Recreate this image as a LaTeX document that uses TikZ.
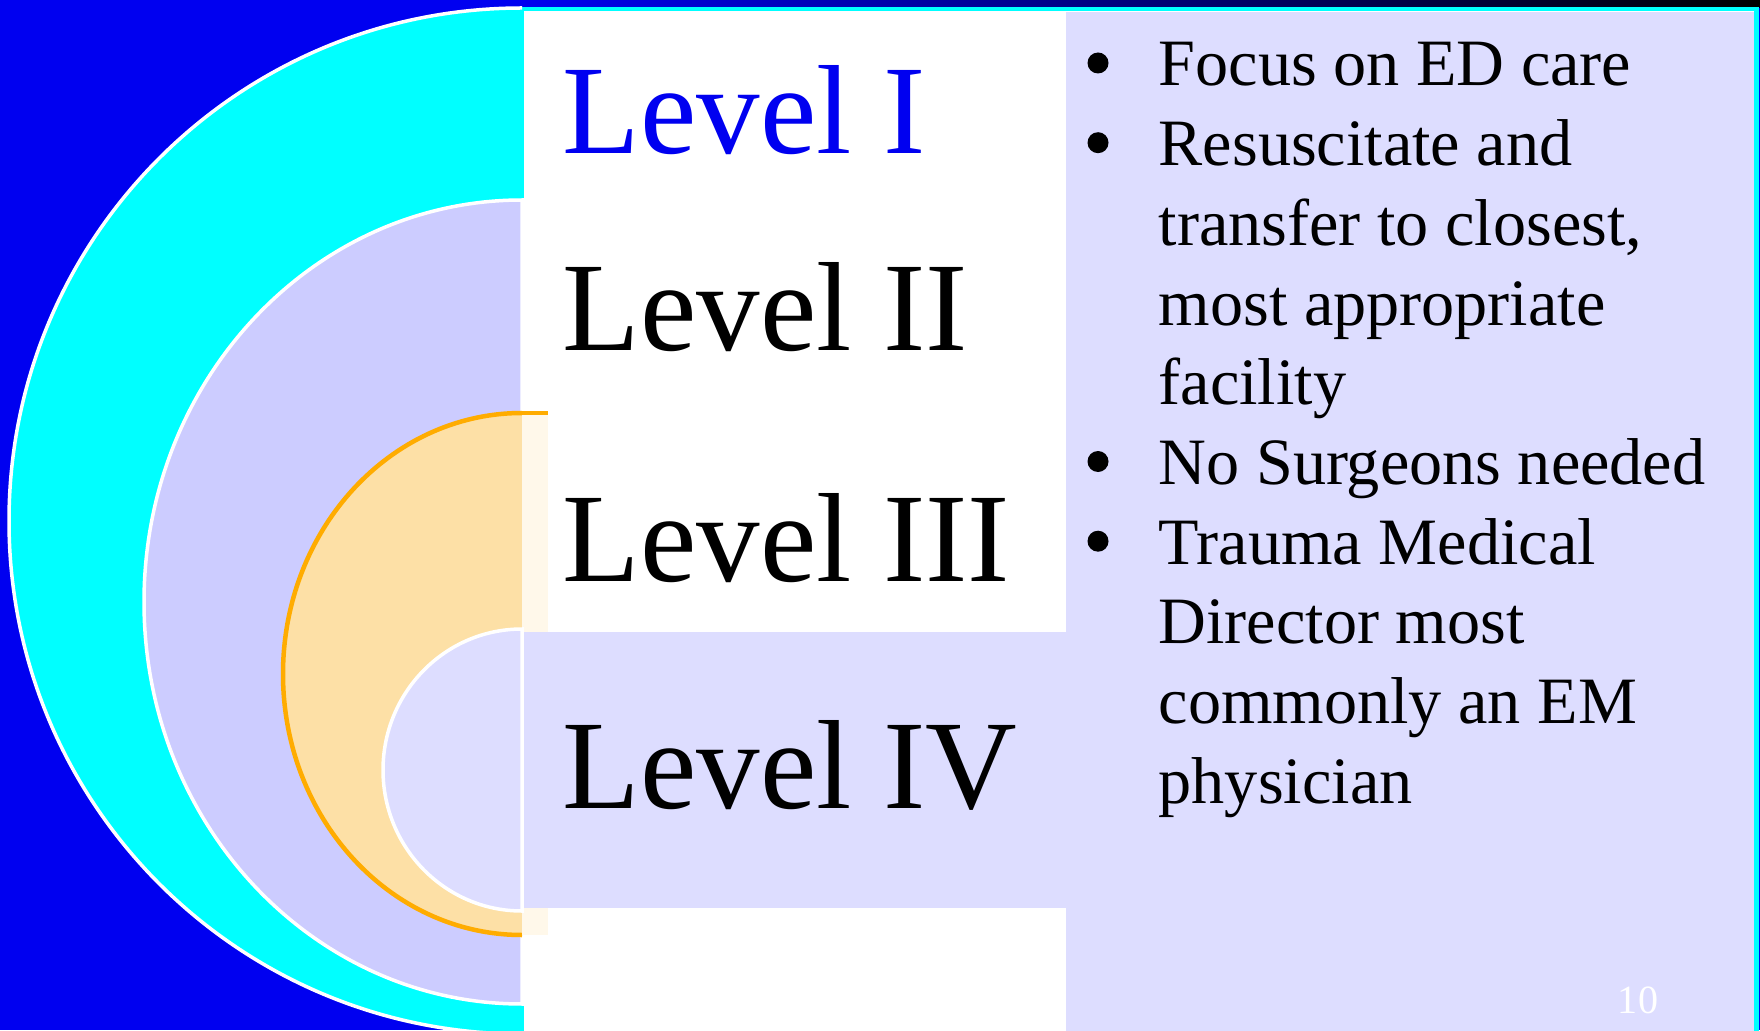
\documentclass[tikz,border=0pt]{standalone}
\usepackage{fontspec}
\setmainfont{Liberation Serif}
\usetikzlibrary{calc}

\definecolor{slideblue}{RGB}{0,0,240}
\definecolor{ringcyan}{RGB}{0,255,255}
\definecolor{ringlilac}{RGB}{204,204,255}
\definecolor{panellilac}{RGB}{221,221,255}
\definecolor{ringorange}{RGB}{253,224,166}
\definecolor{edgeorange}{RGB}{255,172,0}
\definecolor{creamstrip}{RGB}{255,248,234}

\tikzset{
  levellabel/.style={font=\fontsize{36.1}{40}\selectfont, anchor=base west, inner sep=0pt},
  itemtext/.style={font=\fontsize{18.84}{22.7}\selectfont, anchor=base west, inner sep=0pt},
  itemdot/.style={circle, fill=black, minimum size=2.1mm, inner sep=0pt},
  whiteedge/.style={draw=white, line width=0.35mm},
}

\begin{document}
\begin{tikzpicture}[x=0.1mm,y=-0.1mm]
  \useasboundingbox (0,0) rectangle (1760,1030);

  %% Slide background and the panel with the notes
  \fill[slideblue] (0,0) rectangle (1760,1030);
  \shade[left color=slideblue, right color=black] (522,0) rectangle (1760,8);
  \draw[ringcyan, line width=0.45mm, fill=white] (522,9) rectangle (1756.5,1045);
  \fill[panellilac] (1066,12) rectangle (1754,1035);

  %% Nested half rings, outermost first
  \fill[ringcyan] (522,8) arc[start angle=90, end angle=270, radius=51.3mm] -- cycle;
  \draw[whiteedge] (522,8) arc[start angle=90, end angle=270, radius=51.3mm];
  \filldraw[ringlilac, whiteedge] (522,200)
    arc[start angle=90, end angle=270, x radius=37.8mm, y radius=40.2mm] -- cycle;
  \filldraw[fill=ringorange, draw=edgeorange, line width=0.45mm] (522,413)
    arc[start angle=90, end angle=270, x radius=23.9mm, y radius=26.1mm];
  \fill[creamstrip] (522,413) rectangle (548,935);
  \draw[edgeorange, line width=0.45mm] (521,413) -- (548,413);

  %% Box of the last level and its inner half disc
  \fill[panellilac] (524,632) rectangle (1066,908);
  \filldraw[panellilac, whiteedge] (522,629)
    arc[start angle=90, end angle=270, x radius=13.9mm, y radius=14.1mm] -- cycle;

  %% Level names
  \foreach \lvl/\ybase/\tint [count=\i] in {I/154/slideblue, II/351/black, III/581/black, IV/808/black}
  {
    \node[levellabel, text=\tint] (level\i) at (562,\ybase) {Level \lvl};
  }

  %% Notes, one line at a time
  \foreach \txt [count=\i from 0] in {Focus on ED care, Resuscitate and, {transfer to closest,},
      most appropriate, facility, No Surgeons needed, Trauma Medical, Director most,
      commonly an EM, physician}
  {
    \node[itemtext] (note\i) at (1158,86+79.7*\i) {\txt};
  }
  \foreach \i in {0,1,5,6}
  {
    \node[itemdot] (dot\i) at (1098,63+79.7*\i) {};
  }

  \node[font=\fontsize{11.4}{13}\selectfont, text=white, anchor=base, inner sep=0pt] (pagenum) at (1638,1013) {10};
\end{tikzpicture}
\end{document}
